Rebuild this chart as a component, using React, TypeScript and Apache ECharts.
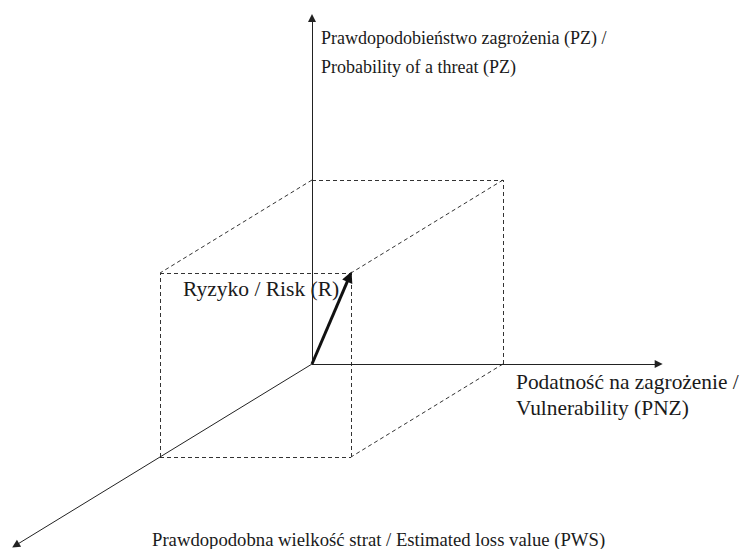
import React, { useEffect, useRef } from "react";
import * as echarts from "echarts";

// Dimensions of the risk model (PNZ = x, PZ = y, PWS = z)
const dimensionNames = ["PNZ", "PZ", "PWS"];
// Risk vector value in each dimension (unit box)
const riskValues = [1, 1, 1];
// How far each axis extends, in the same units
const axisExtents = [1.815, 1.88, 1.95];

// Labels
const labelPZ = ["Prawdopodobieństwo zagrożenia (PZ) /", "Probability of a threat (PZ)"];
const labelPNZ = ["Podatność na zagrożenie /", "Vulnerability (PNZ)"];
const labelPWS = ["Prawdopodobna wielkość strat / Estimated loss value (PWS)"];
const labelRisk = ["Ryzyko / Risk (R)"];

// Oblique projection (layout, not data)
const ORIGIN = [312, 364];
const UNIT_X = [191, 0];
const UNIT_Y = [0, -184];
const UNIT_Z = [-152, 93];

function project(p: number[]): number[] {
  return [
    ORIGIN[0] + p[0] * UNIT_X[0] + p[1] * UNIT_Y[0] + p[2] * UNIT_Z[0],
    ORIGIN[1] + p[0] * UNIT_X[1] + p[1] * UNIT_Y[1] + p[2] * UNIT_Z[1],
  ];
}

// pull an end point back along its segment so that a centred arrow head ends at the true point
function pullBack(a: number[], b: number[], d: number): number[] {
  const dx = b[0] - a[0];
  const dy = b[1] - a[1];
  const len = Math.sqrt(dx * dx + dy * dy);
  return [b[0] - (dx / len) * d, b[1] - (dy / len) * d];
}

export default function App() {
  const ref = useRef<HTMLDivElement>(null);
  useEffect(() => {
    if (!ref.current) return;
    const chart = echarts.init(ref.current, null, { renderer: "svg" });
    const [rx, ry, rz] = riskValues;
    const O = [0, 0, 0];
    const X = [rx, 0, 0];
    const Y = [0, ry, 0];
    const Z = [0, 0, rz];
    const XY = [rx, ry, 0];
    const YZ = [0, ry, rz];
    const XZ = [rx, 0, rz];
    const XYZ = [rx, ry, rz];
    const boxEdges = [
      [Y, XY], [X, XY], [Y, YZ], [XY, XYZ], [YZ, XYZ],
      [Z, YZ], [XZ, XYZ], [Z, XZ], [X, XZ],
    ];
    const axes = dimensionNames.map((_, i) => {
      const end = [0, 0, 0];
      end[i] = axisExtents[i];
      return { coords: [project(O), project(end)] };
    });
    const riskStart = project(O);
    const riskEnd = pullBack(riskStart, project(XYZ), 4);
    const txt = (s: string, x: number, y: number, size: number) => ({
      type: "text",
      x,
      y,
      style: {
        text: s,
        fontFamily: "Liberation Serif",
        fontSize: size,
        fill: "#1a1a1a",
        verticalAlign: "middle",
        align: "left",
      },
    });
    chart.setOption({
      animation: false,
      backgroundColor: "#fff",
      grid: { left: 0, right: 0, top: 0, bottom: 0 },
      xAxis: { type: "value", min: 0, max: 745, show: false },
      yAxis: { type: "value", min: 0, max: 549, inverse: true, show: false },
      series: [
        {
          type: "lines",
          coordinateSystem: "cartesian2d",
          polyline: false,
          data: boxEdges.map((e) => ({ coords: [project(e[0]), project(e[1])] })),
          lineStyle: { color: "#333", width: 1, type: [4, 3], opacity: 1 },
          symbol: ["none", "none"],
          silent: true,
        },
        {
          type: "lines",
          coordinateSystem: "cartesian2d",
          data: axes,
          lineStyle: { color: "#222", width: 1, opacity: 1 },
          symbol: ["none", "triangle"],
          symbolSize: 8,
          silent: true,
        },
        {
          type: "lines",
          coordinateSystem: "cartesian2d",
          data: [{ coords: [riskStart, riskEnd] }],
          lineStyle: { color: "#111", width: 3, opacity: 1 },
          symbol: ["none", "triangle"],
          symbolSize: 11,
          silent: true,
        },
      ],
      graphic: [
        txt(labelPZ[0], 321, 38, 18),
        txt(labelPZ[1], 321, 67, 18),
        txt(labelRisk[0], 183, 289, 21.5),
        txt(labelPNZ[0], 516, 382, 21.4),
        txt(labelPNZ[1], 516, 408, 21.4),
        txt(labelPWS[0], 152, 539, 18.7),
      ],
    });
    return () => chart.dispose();
  }, []);
  return (
    <div
      ref={ref}
      style={{ position: "fixed", left: 0, top: 0, width: 745, height: 549, background: "#fff" }}
    />
  );
}
